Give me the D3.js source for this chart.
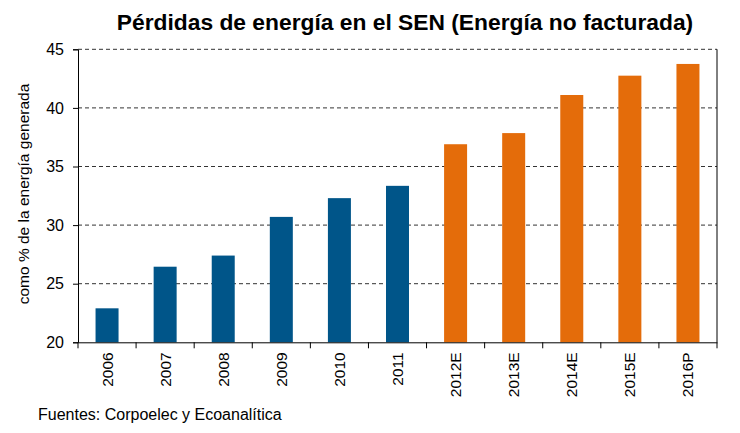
<!DOCTYPE html>
<html><head><meta charset="utf-8">
<script src="https://cdn.jsdelivr.net/npm/d3@7"></script>
<style>body{margin:0;background:#fff}svg{display:block;font-family:"Liberation Sans",Arial,sans-serif}</style>
</head><body><svg id="c" width="740" height="433"></svg>
<script>
const categories = ["2006","2007","2008","2009","2010","2011","2012E","2013E","2014E","2015E","2016P"];
const values = [22.9,26.45,27.4,30.7,32.3,33.35,36.9,37.85,41.1,42.75,43.75];
const isEstimate = [false,false,false,false,false,false,true,true,true,true,true];
const yTicks = [20,25,30,35,40,45];
const title = "Pérdidas de energía en el SEN (Energía no facturada)";
const yLabel = "como % de la energía generada";
const source = "Fuentes: Corpoelec y Ecoanalítica";

const svg = d3.select("#c");
const L=78, R=717, T=49.3, B=342.3;
const xb = d3.scaleBand().domain(categories).range([L,R]);
const y = d3.scaleLinear().domain([20,45]).range([B,T]);

svg.append("text").attr("x",405).attr("y",30).attr("text-anchor","middle")
  .attr("font-size",22.8).attr("font-weight","bold").attr("fill","#000").text(title);

// gridlines
svg.append("g").selectAll("line").data(yTicks.filter(d=>d>20)).join("line")
  .attr("x1",L).attr("x2",R).attr("y1",d=>y(d)).attr("y2",d=>y(d))
  .attr("stroke","#333").attr("stroke-width",1).attr("stroke-dasharray","4,3");

// bars
svg.append("g").selectAll("rect").data(categories).join("rect")
  .attr("x",d=>xb(d)+xb.bandwidth()/2-11.5).attr("width",23)
  .attr("y",(d,i)=>y(values[i])).attr("height",(d,i)=>B-y(values[i]))
  .attr("fill",(d,i)=>isEstimate[i]?"#E46C0A":"#005589");

// right border
svg.append("line").attr("x1",R).attr("x2",R).attr("y1",T).attr("y2",B).attr("stroke","#000");

// y axis
const ya = svg.append("g").attr("transform",`translate(${L},0)`)
  .call(d3.axisLeft(y).tickValues(yTicks).tickSize(5).tickPadding(9));
ya.select(".domain").attr("stroke","#000");
ya.selectAll("text").attr("font-size",16).attr("fill","#000").attr("font-family","Liberation Sans, Arial, sans-serif");

// x axis
const xa = svg.append("g").attr("transform",`translate(0,${B})`)
  .call(d3.axisBottom(xb).tickSize(0).tickFormat(""));
xa.select(".domain").attr("stroke","#000");
svg.append("g").selectAll("line").data(categories.concat(["end"])).join("line")
  .attr("x1",(d,i)=>L+i*xb.bandwidth()).attr("x2",(d,i)=>L+i*xb.bandwidth())
  .attr("y1",B).attr("y2",B+6).attr("stroke","#000");
svg.append("g").selectAll("text").data(categories).join("text")
  .attr("transform",d=>`translate(${xb(d)+xb.bandwidth()/2+5.5},${B+10}) rotate(-90)`)
  .attr("text-anchor","end").attr("font-size",15.5).attr("fill","#000").text(d=>d);

// y label
svg.append("text").attr("transform","translate(28.5,194) rotate(-90)").attr("text-anchor","middle")
  .attr("font-size",15.5).attr("fill","#000").text(yLabel);

svg.append("text").attr("x",38).attr("y",420).attr("font-size",16).attr("fill","#000").text(source);
</script></body></html>
